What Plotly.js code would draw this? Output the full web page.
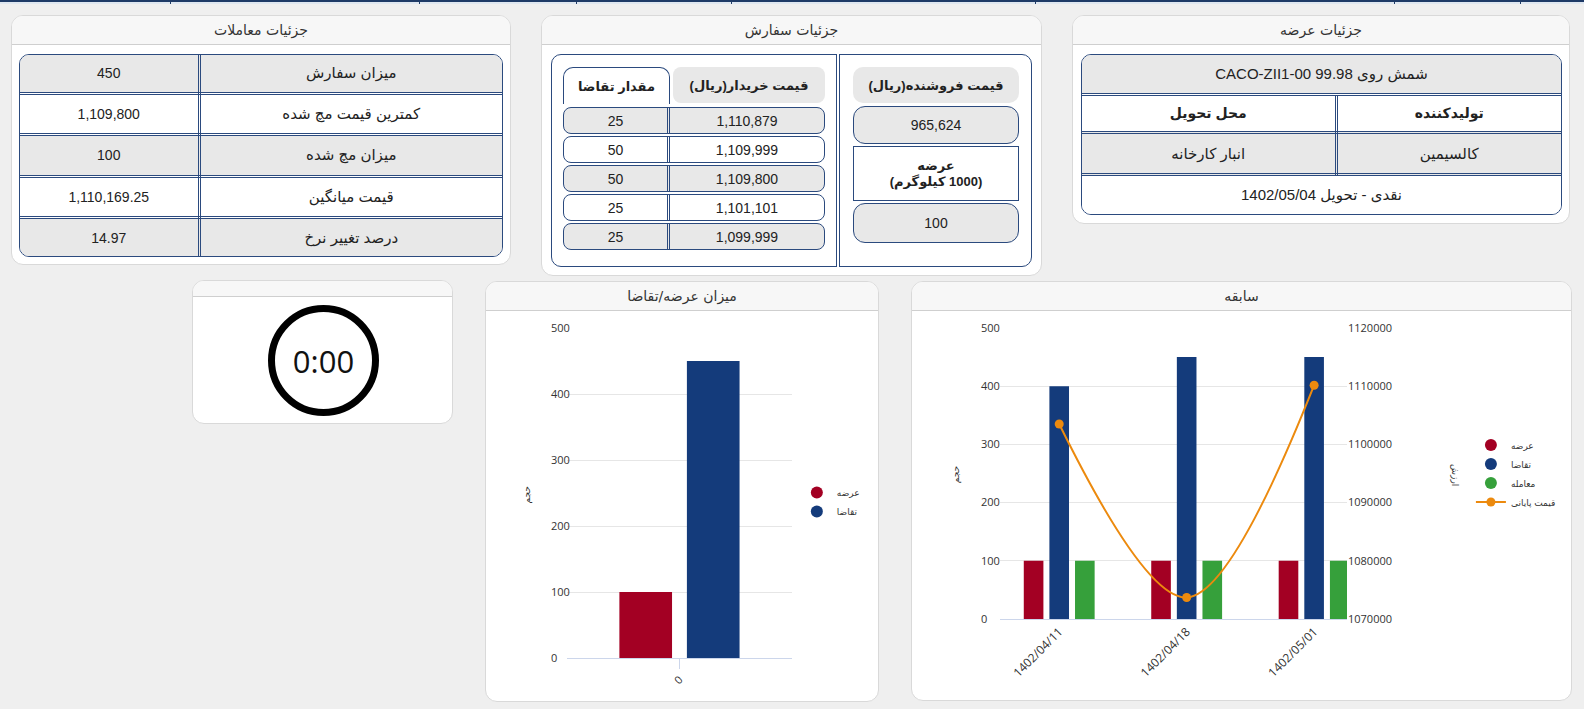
<!DOCTYPE html>
<html><head><meta charset="utf-8">
<script src="https://cdn.plot.ly/plotly-3.0.1.min.js"></script>
<style>
html,body{margin:0;padding:0;}
body{width:1584px;height:709px;background:#efefef;position:relative;overflow:hidden;font-family:"Liberation Sans","DejaVu Sans",sans-serif;color:#222;}
.abs{position:absolute;box-sizing:border-box;}
.panel{position:absolute;box-sizing:border-box;background:#fff;border:1px solid #d9d9d9;border-radius:12px;overflow:hidden;}
.hdr{position:absolute;left:0;right:0;top:0;box-sizing:border-box;background:#f7f7f7;border-bottom:1px solid #cfcfcf;text-align:center;font-size:14px;color:#333;font-family:"DejaVu Sans",sans-serif;}
.tbl{position:absolute;box-sizing:border-box;border:1px solid #2b4a7e;border-radius:10px;overflow:hidden;background:#fff;}
.tbl table{width:100%;height:100%;border-collapse:collapse;table-layout:fixed;}
.tbl td{border:3px double #2b4a7e;text-align:center;font-size:14px;padding:0;}
.tbl tr:first-child td{border-top:none;}
.tbl tr:last-child td{border-bottom:none;}
.tbl td:first-child{border-left:none;}
.tbl td:last-child{border-right:none;}
.g{background:#e8e8e8;}
.w{background:#fff;}
.cell{position:absolute;box-sizing:border-box;display:flex;align-items:center;justify-content:center;font-size:14px;text-align:center;}
.b{font-weight:bold;font-size:13px;}
</style>
</head><body>
<div id="root"></div>
<script>
// ---------- data ----------
const tradeLabels = ['میزان سفارش','کمترین قیمت مچ شده','میزان مچ شده','قیمت میانگین','درصد تغییر نرخ'];
const tradeValues = ['450','1,109,800','100','1,110,169.25','14.97'];
const buyQtyHeader = 'مقدار تقاضا';
const buyPriceHeader = 'قیمت خریدار(ریال)';
const buyQty = ['25','50','50','25','25'];
const buyPrices = ['1,110,879','1,109,999','1,109,800','1,101,101','1,099,999'];
const sellHeader = 'قیمت فروشنده(ریال)';
const sellPrice = '965,624';
const offerLabel = ['عرضه','(1000 کیلوگرم)'];
const offerQty = '100';
const offerTitle = 'شمش روی 99.98 CACO-ZII1-00';
const offerHeaders = ['محل تحویل','تولیدکننده'];
const offerValues = ['انبار کارخانه','کالسیمین'];
const offerTerms = 'نقدی - تحویل 1402/05/04';
const panelTitles = ['جزئیات معاملات','جزئیات سفارش','جزئیات عرضه','میزان عرضه/تقاضا','سابقه'];
const timerText = '0:00';

const sdCategories = ['0'];
const sdSupply = [100];
const sdDemand = [450];

const historyDates = ['1402/04/11','1402/04/18','1402/05/01'];
const historySupply = [100,100,100];
const historyDemand = [400,450,450];
const historyTraded = [100,100,100];
const historyClosePrice = [1103500,1073700,1110169];

const seriesNames = ['عرضه','تقاضا','معامله','قیمت پایانی'];
const axisTitles = ['حجم','ارزش'];

// ---------- colours ----------
const RED='#a30023', BLUE='#143b7b', GREEN='#36a03b', ORANGE='#ec8a0e';

// ---------- page ----------
const root=document.getElementById('root');
function el(cls, style, html){const d=document.createElement('div');d.className=cls;Object.assign(d.style,style);if(html!==undefined)d.innerHTML=html;root.appendChild(d);return d;}
function px(v){return v+'px';}

// top strip
el('abs',{left:'0',top:'0',width:'1584px',height:'2px',background:'#1e3a66'});
el('abs',{left:'0',top:'2px',width:'1584px',height:'2px',background:'#dfe7f0'});
[170,419,576,731,1035,1394,1520].forEach(x=>el('abs',{left:px(x),top:'0',width:'1px',height:'4px',background:'#1e3a66'}));

function panel(x,y,w,h,title,hh){
  const p=el('panel',{left:px(x),top:px(y),width:px(w),height:px(h)});
  const hd=document.createElement('div');hd.className='hdr';hd.style.height=px(hh);hd.style.lineHeight=px(hh-1);hd.textContent=title||'';p.appendChild(hd);
  return p;
}
panel(11,15,500,250,panelTitles[0],29);
panel(541,15,501,261,panelTitles[1],29);
panel(1072,15,498,209,panelTitles[2],29);
panel(192,280,261,144,'',16);
panel(485,281,394,421,panelTitles[3],29);
panel(911,281,661,420,panelTitles[4],29);

// panel 1 table
(function(){
  const t=el('tbl',{left:'19px',top:'54px',width:'484px',height:'203px'});
  let h='<table><colgroup><col style="width:179px"><col></colgroup>';
  tradeLabels.forEach((lab,i)=>{const c=i%2===0?'g':'w';h+=`<tr class="${c}"><td>${tradeValues[i]}</td><td dir="rtl" style="font-size:15px">${lab}</td></tr>`;});
  h+='</table>';t.innerHTML=h;
})();

// panel 2
el('abs',{left:'551px',top:'54px',width:'481px',height:'213px',border:'1px solid #2b4a7e',borderRadius:'10px'});
el('abs',{left:'836px',top:'54px',width:'4px',height:'213px',borderLeft:'1px solid #2b4a7e',borderRight:'1px solid #2b4a7e',background:'#fff'});
el('cell b',{left:'563px',top:'67px',width:'107px',height:'37px',border:'1px solid #2b4a7e',borderBottom:'none',borderRadius:'10px 10px 0 0',background:'#fff'},`<span dir="rtl">${buyQtyHeader}</span>`);
el('cell b',{left:'673px',top:'67px',width:'152px',height:'36px',borderRadius:'8px',background:'#e8e8e8'},`<span dir="rtl">${buyPriceHeader}</span>`);
buyQty.forEach((q,i)=>{
  const top=107+i*29;const bg=i%2===0?'#e8e8e8':'#fff';
  const r=el('abs',{left:'563px',top:px(top),width:'262px',height:'27px',border:'1px solid #2b4a7e',borderRadius:'8px',overflow:'hidden',background:bg});
  const a=document.createElement('div');a.className='cell';Object.assign(a.style,{left:'0',top:'0',width:'106px',height:'25px',borderRight:'3px double #2b4a7e'});a.textContent=q;r.appendChild(a);
  const b=document.createElement('div');b.className='cell';Object.assign(b.style,{left:'106px',top:'0',width:'154px',height:'25px'});b.textContent=buyPrices[i];r.appendChild(b);
});
el('cell b',{left:'853px',top:'67px',width:'166px',height:'36px',borderRadius:'10px',background:'#e8e8e8'},`<span dir="rtl">${sellHeader}</span>`);
el('cell',{left:'853px',top:'106px',width:'166px',height:'38px',border:'1px solid #2b4a7e',borderRadius:'12px',background:'#e8e8e8'},sellPrice);
el('cell b',{left:'853px',top:'146px',width:'166px',height:'55px',border:'1px solid #2b4a7e',background:'#fff',flexDirection:'column',lineHeight:'16px'},`<span dir="rtl">${offerLabel[0]}</span><span dir="rtl">${offerLabel[1]}</span>`);
el('cell',{left:'853px',top:'203px',width:'166px',height:'40px',border:'1px solid #2b4a7e',borderRadius:'12px',background:'#e8e8e8'},offerQty);

// panel 3 table
(function(){
  const t=el('tbl',{left:'1081px',top:'54px',width:'481px',height:'161px'});
  let h='<table><colgroup><col style="width:254px"><col></colgroup>';
  h+=`<tr class="g"><td colspan="2" dir="rtl" style="font-size:15px">${offerTitle}</td></tr>`;
  h+=`<tr class="w"><td dir="rtl" style="font-weight:bold">${offerHeaders[0]}</td><td dir="rtl" style="font-weight:bold">${offerHeaders[1]}</td></tr>`;
  h+=`<tr class="g"><td dir="rtl" style="font-size:15px">${offerValues[0]}</td><td dir="rtl" style="font-size:15px">${offerValues[1]}</td></tr>`;
  h+=`<tr class="w"><td colspan="2" dir="rtl" style="font-size:15px">${offerTerms}</td></tr>`;
  h+='</table>';t.innerHTML=h;
})();

// timer
el('abs',{left:'268px',top:'305px',width:'111px',height:'111px',border:'7px solid #000',borderRadius:'50%',background:'#fff'});
el('cell',{left:'268px',top:'305px',width:'111px',height:'111px',fontFamily:'"Open Sans",sans-serif',fontSize:'31px',color:'#111'},timerText);

// chart containers
const c1=el('abs',{left:'486px',top:'311px',width:'392px',height:'389px'});c1.id='sd';
const c2=el('abs',{left:'912px',top:'311px',width:'659px',height:'389px'});c2.id='hist';

const tickFont={family:'"Open Sans", sans-serif',size:11,color:'#333'};
const legFont={family:'"DejaVu Sans", sans-serif',size:9,color:'#333'};
const config={staticPlot:true,displayModeBar:false};

Plotly.newPlot('sd',[
  {type:'bar',x:sdCategories,y:sdSupply,name:seriesNames[0],marker:{color:RED},showlegend:false},
  {type:'bar',x:sdCategories,y:sdDemand,name:seriesNames[1],marker:{color:BLUE},showlegend:false},
  {type:'scatter',mode:'markers',x:[null],y:[null],name:seriesNames[0],marker:{color:RED,size:12}},
  {type:'scatter',mode:'markers',x:[null],y:[null],name:seriesNames[1],marker:{color:BLUE,size:12}}
],{
  width:392,height:389,margin:{l:64,r:86,t:17,b:42,pad:0},
  paper_bgcolor:'rgba(0,0,0,0)',plot_bgcolor:'rgba(0,0,0,0)',
  barmode:'group',bargap:0.4,bargroupgap:0.22,showlegend:true,
  xaxis:{type:'category',domain:[0.07,1],showline:true,linecolor:'#ccd6eb',ticks:'outside',ticklen:10,tickcolor:'#ccd6eb',tickangle:-45,tickfont:tickFont,showgrid:false,zeroline:false,automargin:false},
  yaxis:{range:[0,500],dtick:100,side:'right',anchor:'free',position:0,gridcolor:'#e6e6e6',showline:false,zeroline:false,ticks:'',tickfont:tickFont,automargin:false},
  legend:{x:1.02,y:0.473,xanchor:'left',yanchor:'middle',font:legFont,itemwidth:30,bgcolor:'rgba(0,0,0,0)'},
  annotations:[{text:axisTitles[0],xref:'paper',yref:'paper',x:-0.124,y:0.494,showarrow:false,textangle:-90,font:legFont}]
},config);

Plotly.newPlot('hist',[
  {type:'bar',x:historyDates,y:historySupply,name:seriesNames[0],marker:{color:RED},showlegend:false},
  {type:'bar',x:historyDates,y:historyDemand,name:seriesNames[1],marker:{color:BLUE},showlegend:false},
  {type:'bar',x:historyDates,y:historyTraded,name:seriesNames[2],marker:{color:GREEN},showlegend:false},
  {type:'scatter',mode:'markers',x:[null],y:[null],name:seriesNames[0],marker:{color:RED,size:12}},
  {type:'scatter',mode:'markers',x:[null],y:[null],name:seriesNames[1],marker:{color:BLUE,size:12}},
  {type:'scatter',mode:'markers',x:[null],y:[null],name:seriesNames[2],marker:{color:GREEN,size:12}},
  {type:'scatter',mode:'lines+markers',x:historyDates,y:historyClosePrice,yaxis:'y2',name:seriesNames[3],line:{color:ORANGE,width:2,shape:'spline',smoothing:1},marker:{color:ORANGE,size:9}}
],{
  width:659,height:389,margin:{l:68,r:223,t:17,b:81,pad:0},
  paper_bgcolor:'rgba(0,0,0,0)',plot_bgcolor:'rgba(0,0,0,0)',
  barmode:'group',bargap:0.397,bargroupgap:0.234,showlegend:true,
  xaxis:{type:'category',domain:[0.054,1],range:[-0.466,2.258],showline:true,linecolor:'#ccd6eb',ticks:'',tickangle:-45,tickfont:{family:'"Open Sans", sans-serif',size:12,color:'#333'},showgrid:false,zeroline:false,automargin:false},
  yaxis:{range:[0,500],dtick:100,side:'right',anchor:'free',position:0,gridcolor:'#e6e6e6',showline:false,zeroline:false,ticks:'',tickfont:tickFont,automargin:false},
  yaxis2:{range:[1070000,1120000],dtick:10000,overlaying:'y',side:'right',anchor:'x',showgrid:false,zeroline:false,showline:false,ticks:'',tickformat:'d',tickfont:tickFont,automargin:false},
  legend:{x:1.334,y:0.5,xanchor:'left',yanchor:'middle',font:legFont,itemwidth:30,bgcolor:'rgba(0,0,0,0)'},
  annotations:[
    {text:axisTitles[0],xref:'paper',yref:'paper',x:-0.082,y:0.495,showarrow:false,textangle:-90,font:legFont},
    {text:axisTitles[1],xref:'paper',yref:'paper',x:1.313,y:0.495,showarrow:false,textangle:90,font:legFont}
  ]
},config);
</script>
</body></html>
